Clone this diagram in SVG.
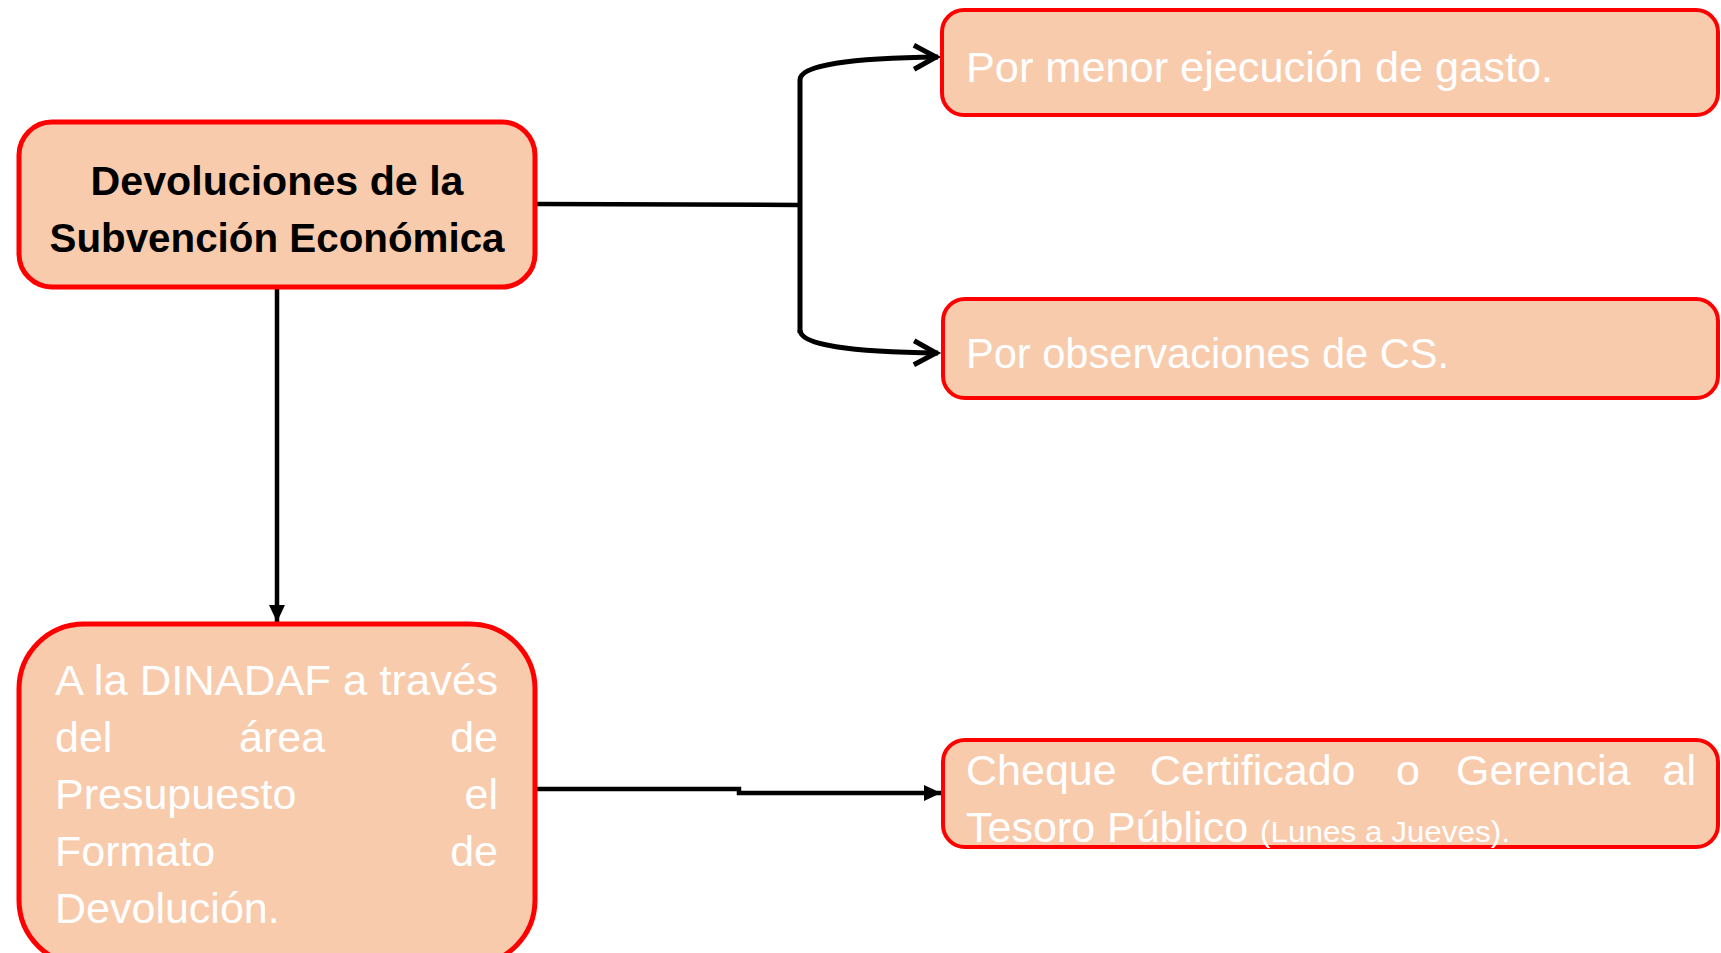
<svg xmlns="http://www.w3.org/2000/svg" width="1721" height="953" viewBox="0 0 1721 953">
<style>
.box{fill:#F8CBAD;stroke:#FF0000;stroke-width:5}
.box2{fill:#F8CBAD;stroke:#FF0000;stroke-width:4}
.t{font-family:"Liberation Sans",Arial,sans-serif;fill:#FFFFFF;font-size:43px}
.ts{font-size:30px}
.tb{font-family:"Liberation Sans",Arial,sans-serif;fill:#000000;font-size:40px;font-weight:bold;text-anchor:middle}
.ln{fill:none;stroke:#000;stroke-width:4.5}
.br{fill:none;stroke:#000;stroke-width:5}
</style>
<defs>
<marker id="fa" viewBox="0 0 17 16" refX="17" refY="8" markerWidth="17" markerHeight="16" orient="auto" markerUnits="userSpaceOnUse">
<path d="M0,0 L17,8 L0,16 Z" fill="#000"/>
</marker>
<marker id="oa" viewBox="0 0 30 30" refX="26" refY="15" markerWidth="30" markerHeight="30" orient="auto" markerUnits="userSpaceOnUse">
<path d="M2,3 L24,15 L2,27" fill="none" stroke="#000" stroke-width="5"/>
</marker>
</defs>
<g id="connectors">
<path class="ln" d="M537,204 L799,205"/>
<path class="br" d="M800,333 L800,80 C800,65 850,58 938,57" marker-end="url(#oa)"/>
<path class="br" d="M800,330 C800,345 850,352 938,353" marker-end="url(#oa)"/>
<path class="ln" d="M277,289 L277,622" marker-end="url(#fa)"/>
<path class="ln" d="M537,789 L739,789 L739,793 L941,793" marker-end="url(#fa)"/>
</g>
<g id="main">
<rect class="box" x="19" y="122" width="516" height="165" rx="33"/>
<text class="tb" x="277" y="195" textLength="373" lengthAdjust="spacingAndGlyphs">Devoluciones de la</text>
<text class="tb" x="277" y="252" textLength="455" lengthAdjust="spacingAndGlyphs">Subvención Económica</text>
</g>
<g id="n1">
<rect class="box2" x="942" y="10" width="776" height="105" rx="22"/>
<text class="t" x="966" y="82" textLength="587" lengthAdjust="spacingAndGlyphs">Por menor ejecución de gasto.</text>
</g>
<g id="n2">
<rect class="box2" x="943" y="299" width="775" height="99" rx="22"/>
<text class="t" x="966" y="368" textLength="483" lengthAdjust="spacingAndGlyphs">Por observaciones de CS.</text>
</g>
<g id="n3">
<rect class="box2" x="943" y="740" width="775" height="107" rx="22"/>
<text class="t" y="785"><tspan x="966">Cheque</tspan><tspan x="1150">Certificado</tspan><tspan x="1396">o</tspan><tspan x="1456">Gerencia</tspan><tspan x="1696" text-anchor="end">al</tspan></text>
<text class="t" x="966" y="842">Tesoro Público</text>
<text class="t ts" x="1260" y="842" textLength="250" lengthAdjust="spacingAndGlyphs">(Lunes a Jueves).</text>
</g>
<g id="n4">
<rect class="box" x="19" y="624" width="516" height="341" rx="65"/>
<text class="t" x="55" y="695" textLength="443" lengthAdjust="spacingAndGlyphs">A la DINADAF a través</text>
<text class="t" y="752"><tspan x="55">del</tspan><tspan x="239">área</tspan></text>
<text class="t" x="498" y="752" text-anchor="end">de</text>
<text class="t" x="55" y="809">Presupuesto</text>
<text class="t" x="498" y="809" text-anchor="end">el</text>
<text class="t" x="55" y="866">Formato</text>
<text class="t" x="498" y="866" text-anchor="end">de</text>
<text class="t" x="55" y="923">Devolución.</text>
</g>
</svg>
